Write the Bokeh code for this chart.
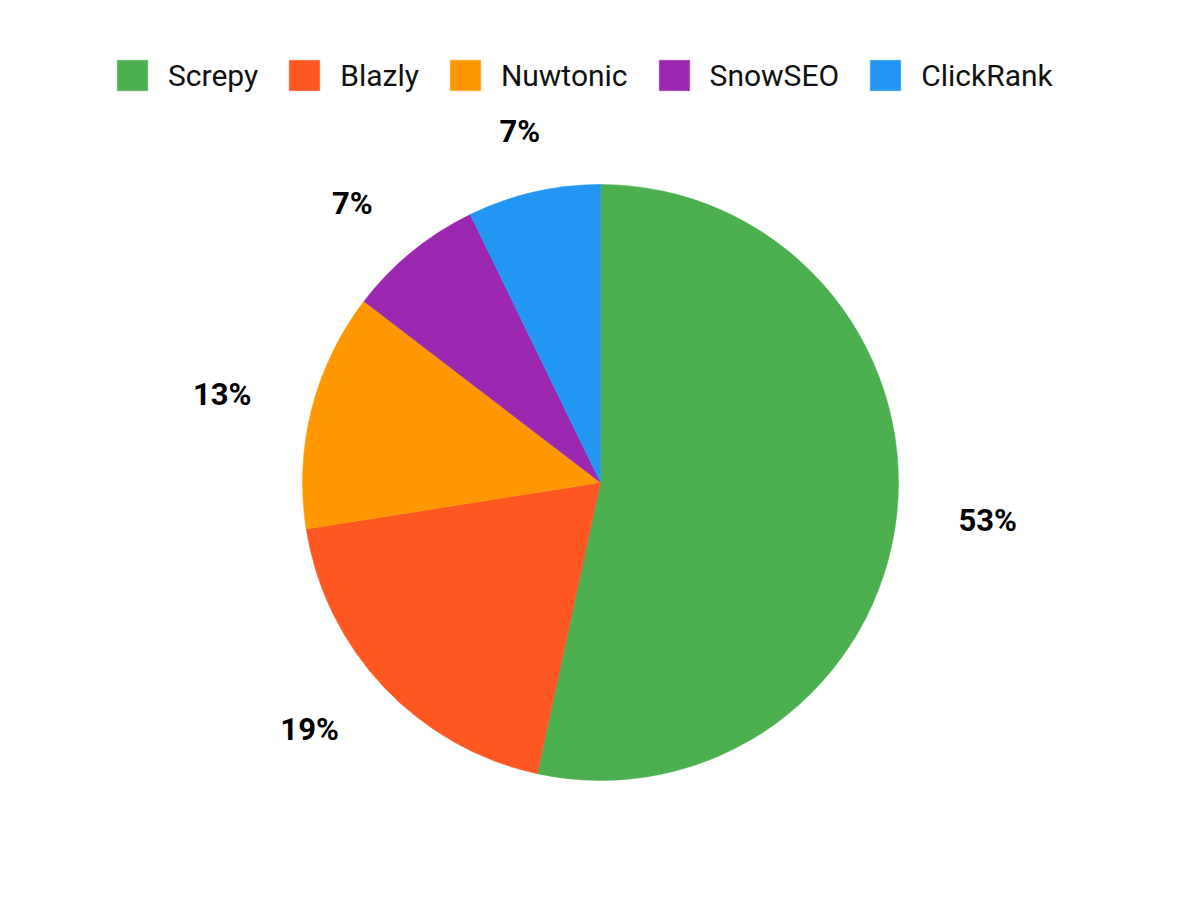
import math
from bokeh.plotting import figure
from bokeh.models import Range1d, ColumnDataSource, Legend, LegendItem
from bokeh.core.properties import value
from bokeh.embed import file_html
from bokeh.resources import INLINE

categories = ["Screpy", "Blazly", "Nuwtonic", "SnowSEO", "ClickRank"]
shares = [53.4, 19.1, 12.9, 7.4, 7.2]
labels = ["53%", "19%", "13%", "7%", "7%"]
colors = ["#4CAF50", "#FF5722", "#FF9800", "#9C27B0", "#2196F3"]

W, H = 1184, 884
CX, CY = 600, 900 - 482
R = 298
LR = 360

total = sum(shares)
starts, ends, lx, ly, aligns = [], [], [], [], []
cum = 0.0
for s in shares:
    f0 = cum / total
    cum += s
    f1 = cum / total
    a0 = math.pi / 2 - 2 * math.pi * f0
    a1 = math.pi / 2 - 2 * math.pi * f1
    starts.append(a0)
    ends.append(a1)
    am = (a0 + a1) / 2
    dx, dy = math.cos(am), math.sin(am)
    lx.append(CX + LR * dx)
    ly.append(CY + LR * dy)
    if abs(dx) < 0.3:
        aligns.append("center")
    elif dx > 0:
        aligns.append("left")
    else:
        aligns.append("right")

src = ColumnDataSource(dict(cat=categories, start=starts, end=ends, color=colors,
                            lx=lx, ly=ly, lab=labels, align=aligns))

p = figure(width=W, height=H, output_backend="svg", toolbar_location=None,
           x_range=Range1d(0, W), y_range=Range1d(900 - H, 900),
           min_border=0)
p.axis.visible = False
p.grid.visible = False
p.outline_line_color = None
p.background_fill_color = "white"
p.border_fill_color = "white"

renderers = []
for i, c in enumerate(categories):
    sub = ColumnDataSource(dict(start=[starts[i]], end=[ends[i]]))
    r = p.wedge(x=CX, y=CY, radius=R, start_angle="start", end_angle="end",
                direction="clock", fill_color=colors[i], line_color=colors[i],
                line_width=0.5, source=sub)
    renderers.append(r)

p.text(x="lx", y="ly", text="lab", source=src, text_align="align",
       text_baseline="middle", text_font=value("Roboto"), text_font_style="bold",
       text_font_size="31px", text_color="#000000")

legend = Legend(items=[LegendItem(label=c, renderers=[r]) for c, r in zip(categories, renderers)],
                orientation="horizontal", location=(113, H - 94),
                glyph_width=38, glyph_height=38, label_standoff=17, spacing=27,
                label_text_font="Roboto", label_text_font_size="30px",
                label_text_color="#111111", border_line_color=None,
                background_fill_alpha=0, padding=4, margin=0,
                label_height=30)
p.add_layout(legend, "center")

open("out.html", "w").write(file_html(p, INLINE))
